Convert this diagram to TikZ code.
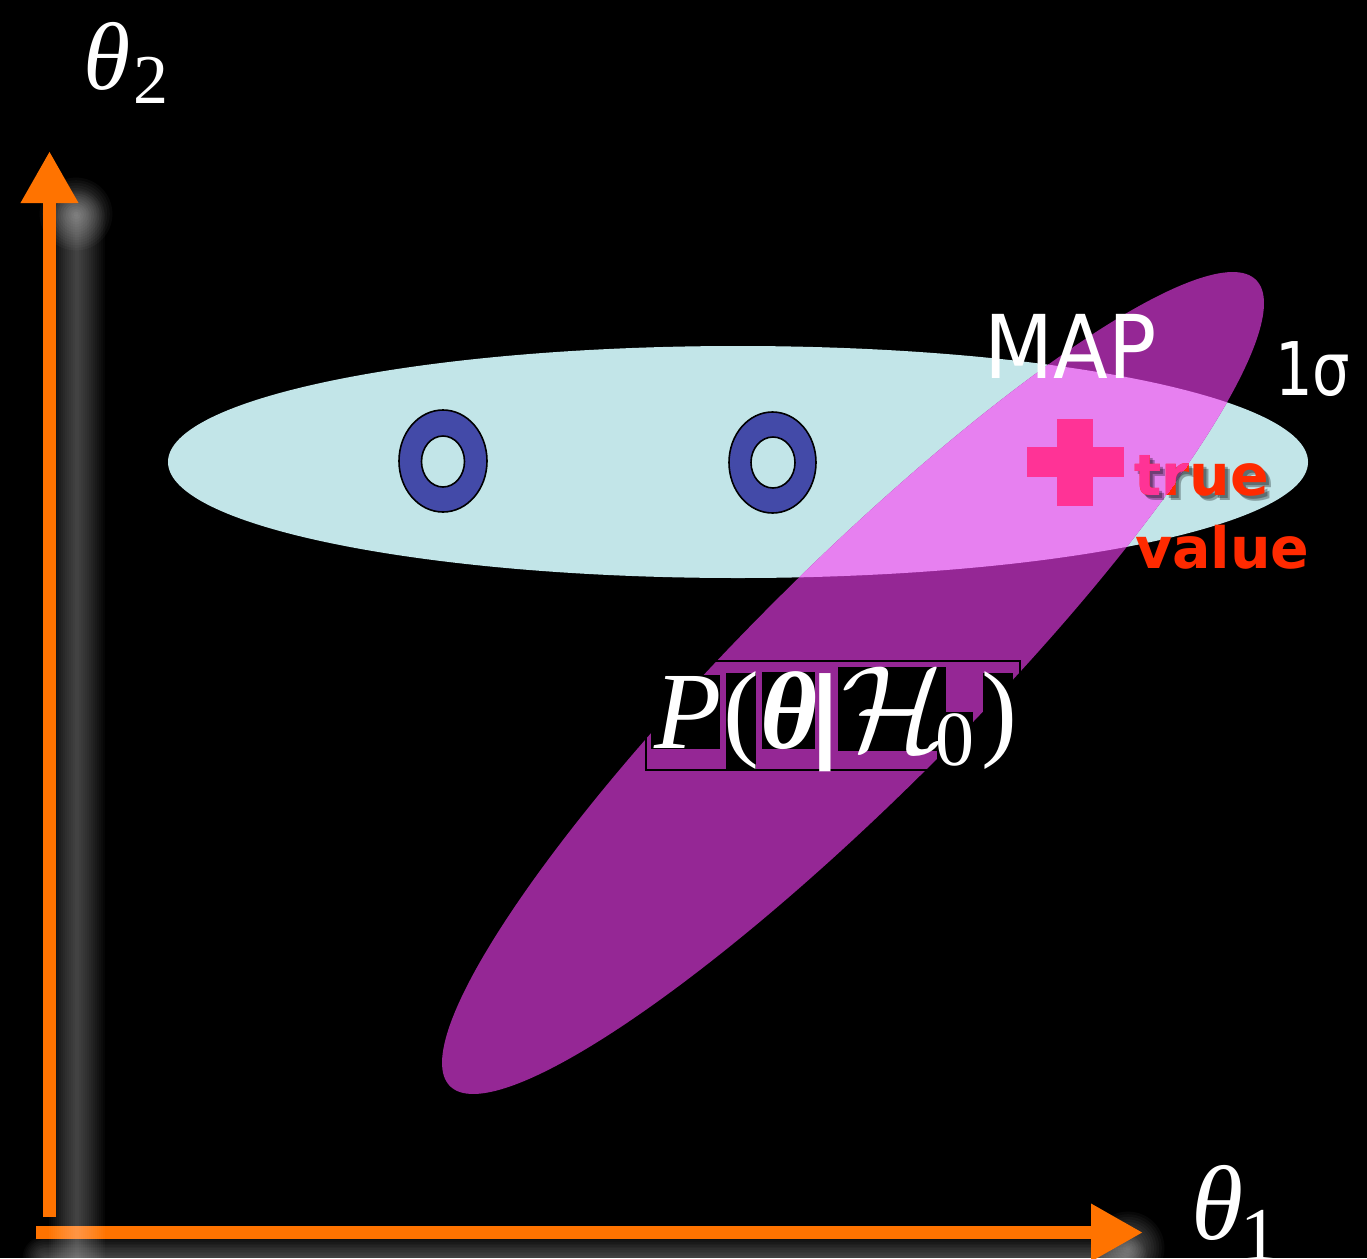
\documentclass[tikz,border=0pt]{standalone}
\usepackage{fontspec}
\newfontfamily\tnr{Liberation Serif}
\newfontfamily\vrd{DejaVu Sans}
\DeclareFontFamily{OMS}{cmsy}{\skewchar\font48 }
\DeclareFontShape{OMS}{cmsy}{m}{n}{<->cmsy10}{}
\newcommand{\calfont}{\fontencoding{OMS}\fontfamily{cmsy}\fontseries{m}\fontshape{n}\selectfont}
\usetikzlibrary{arrows.meta}
\definecolor{axorange}{RGB}{255,115,0}
\definecolor{lcyan}{RGB}{194,229,232}
\definecolor{lpurple}{RGB}{149,39,149}
\definecolor{overlap}{RGB}{231,128,240}
\definecolor{ringblue}{RGB}{67,74,168}
\definecolor{hotpink}{RGB}{255,51,150}
\definecolor{truered}{RGB}{255,42,0}
\tikzset{
  axisarrow/.style={draw=axorange, line width=13pt, -{Triangle[length=52pt,width=54pt]}},
  glow/.style={draw=white, line cap=round, opacity=0.024},
  ring/.style={fill=ringblue, draw=black, line width=1.6pt, even odd rule},
  glyph/.style={text=white, inner sep=0pt, anchor=base},
  blackbox/.style={fill=black},
  sanslabel/.style={text=white, inner sep=0pt, anchor=base west, font=\vrd},
  redlabel/.style={inner sep=0pt, anchor=base west, font={\vrd\bfseries\fontsize{57}{57}\selectfont}},
}
\newcommand{\purpleshape}{[rotate around={45:(853,683)}] (853,683) ellipse [x radius=570, y radius=113]}
\begin{document}
\begin{tikzpicture}[x=1pt,y=-1pt]
\useasboundingbox (0,0) rectangle (1367,1258);
\fill[black] (0,0) rectangle (1367,1258);

% horizontal axis glow and arrow
\coordinate (hglowA) at (45,1258);
\coordinate (hglowB) at (1125,1258);
\foreach \i in {1,...,14}
  \draw[glow, line width=3.2*\i pt] (hglowA) -- (hglowB);
\coordinate (hspot) at (1128,1248);
\foreach \i in {1,...,14}
  \fill[white, opacity=0.03] (hspot) circle [radius=2.6*\i];
\coordinate (hstart) at (36,1232.5);
\coordinate (htip) at (1143,1232.5);
\draw[axisarrow] (hstart) -- (htip);

% vertical axis glow and arrow
\coordinate (vglowA) at (77,218);
\coordinate (vglowB) at (77,1262);
\foreach \i in {1,...,14}
  \draw[glow, line width=4*\i pt] (vglowA) -- (vglowB);
\coordinate (vspot) at (76,214);
\foreach \i in {1,...,14}
  \fill[white, opacity=0.03] (vspot) circle [radius=2.6*\i];
\coordinate (vstart) at (49.5,1217);
\coordinate (vtip) at (49.5,151);
\draw[axisarrow] (vstart) -- (vtip);

% axis labels
\node[glyph, font={\tnr\itshape\fontsize{96}{96}\selectfont}] (t2) at (107,89) {θ};
\node[glyph, font={\tnr\fontsize{70}{70}\selectfont}] (t2s) at (151,103) {2};
\node[glyph, font={\tnr\itshape\fontsize{106}{106}\selectfont}] (t1) at (1218,1239) {θ};
\node[glyph, font={\tnr\fontsize{76}{76}\selectfont}] (t1s) at (1259,1260) {1};

% ellipses
\fill[lcyan] (738,462) ellipse [x radius=570, y radius=116];
\fill[lpurple] \purpleshape;
\begin{scope}
  \clip (738,462) ellipse [x radius=570, y radius=116];
  \fill[overlap] \purpleshape;
\end{scope}

% rings
\filldraw[ring] (443,461) ellipse [x radius=44, y radius=51] (443,461.5) ellipse [x radius=21.5, y radius=25.5];
\filldraw[ring] (772.5,462.5) ellipse [x radius=43.5, y radius=50.5] (773,462.5) ellipse [x radius=22, y radius=25.5];

% P(theta|H0) label
\draw[black, line width=1.5pt] (646,661) rectangle (1020,770);
\fill[blackbox] (651,675) rectangle (720,749);
\fill[blackbox] (726,673) rectangle (756,769);
\fill[blackbox] (762,672) rectangle (815,749);
\fill[blackbox] (838,667) rectangle (946,751);
\fill[blackbox] (937,712) rectangle (973,765);
\fill[blackbox] (983,673) rectangle (1013,768);
\node[glyph, font={\tnr\itshape\fontsize{110}{110}\selectfont}] (gP) at (688,748) {P};
\node[glyph, font={\tnr\fontsize{108}{108}\selectfont}] (gL) at (741,746) {(};
\node[glyph, font={\tnr\bfseries\itshape\fontsize{110}{110}\selectfont}] (gT) at (789,748) {θ};
\node[glyph, font={\tnr\bfseries\fontsize{108}{108}\selectfont}] (gB) at (825.5,748) {\scalebox{1.5}[1]{|}};
\node[glyph, font={\calfont\fontsize{122}{122}\selectfont}] (gH) at (893,750) {H};
\node[glyph, font={\tnr\fontsize{78}{78}\selectfont}] (g0) at (955,765) {0};
\node[glyph, font={\tnr\fontsize{108}{108}\selectfont}] (gR) at (999,746) {)};

% MAP and 1 sigma
\node[sanslabel, font={\vrd\fontsize{88}{88}\selectfont}] (map) at (984,378) {\scalebox{0.91}[1]{MAP}};
\node[sanslabel, font={\vrd\fontsize{74}{74}\selectfont}] (sig) at (1275,395) {\scalebox{0.8}[1]{1σ}};

% true value marker
\fill[hotpink] (1057,419) rectangle (1093,506);
\fill[hotpink] (1027,447) rectangle (1124,477);
\node[redlabel, text=black, opacity=0.3] (trueshA) at (1137,498) {true};
\node[redlabel, text=black, opacity=0.3] (trueshB) at (1139,500) {true};
\node[redlabel, text=truered] (true) at (1134,495) {true};
\begin{scope}
  \clip \purpleshape;
  \node[redlabel, text=hotpink] (truepink) at (1134,495) {true};
\end{scope}
\node[redlabel, text=truered] (value) at (1135,568) {value};
\end{tikzpicture}
\end{document}
